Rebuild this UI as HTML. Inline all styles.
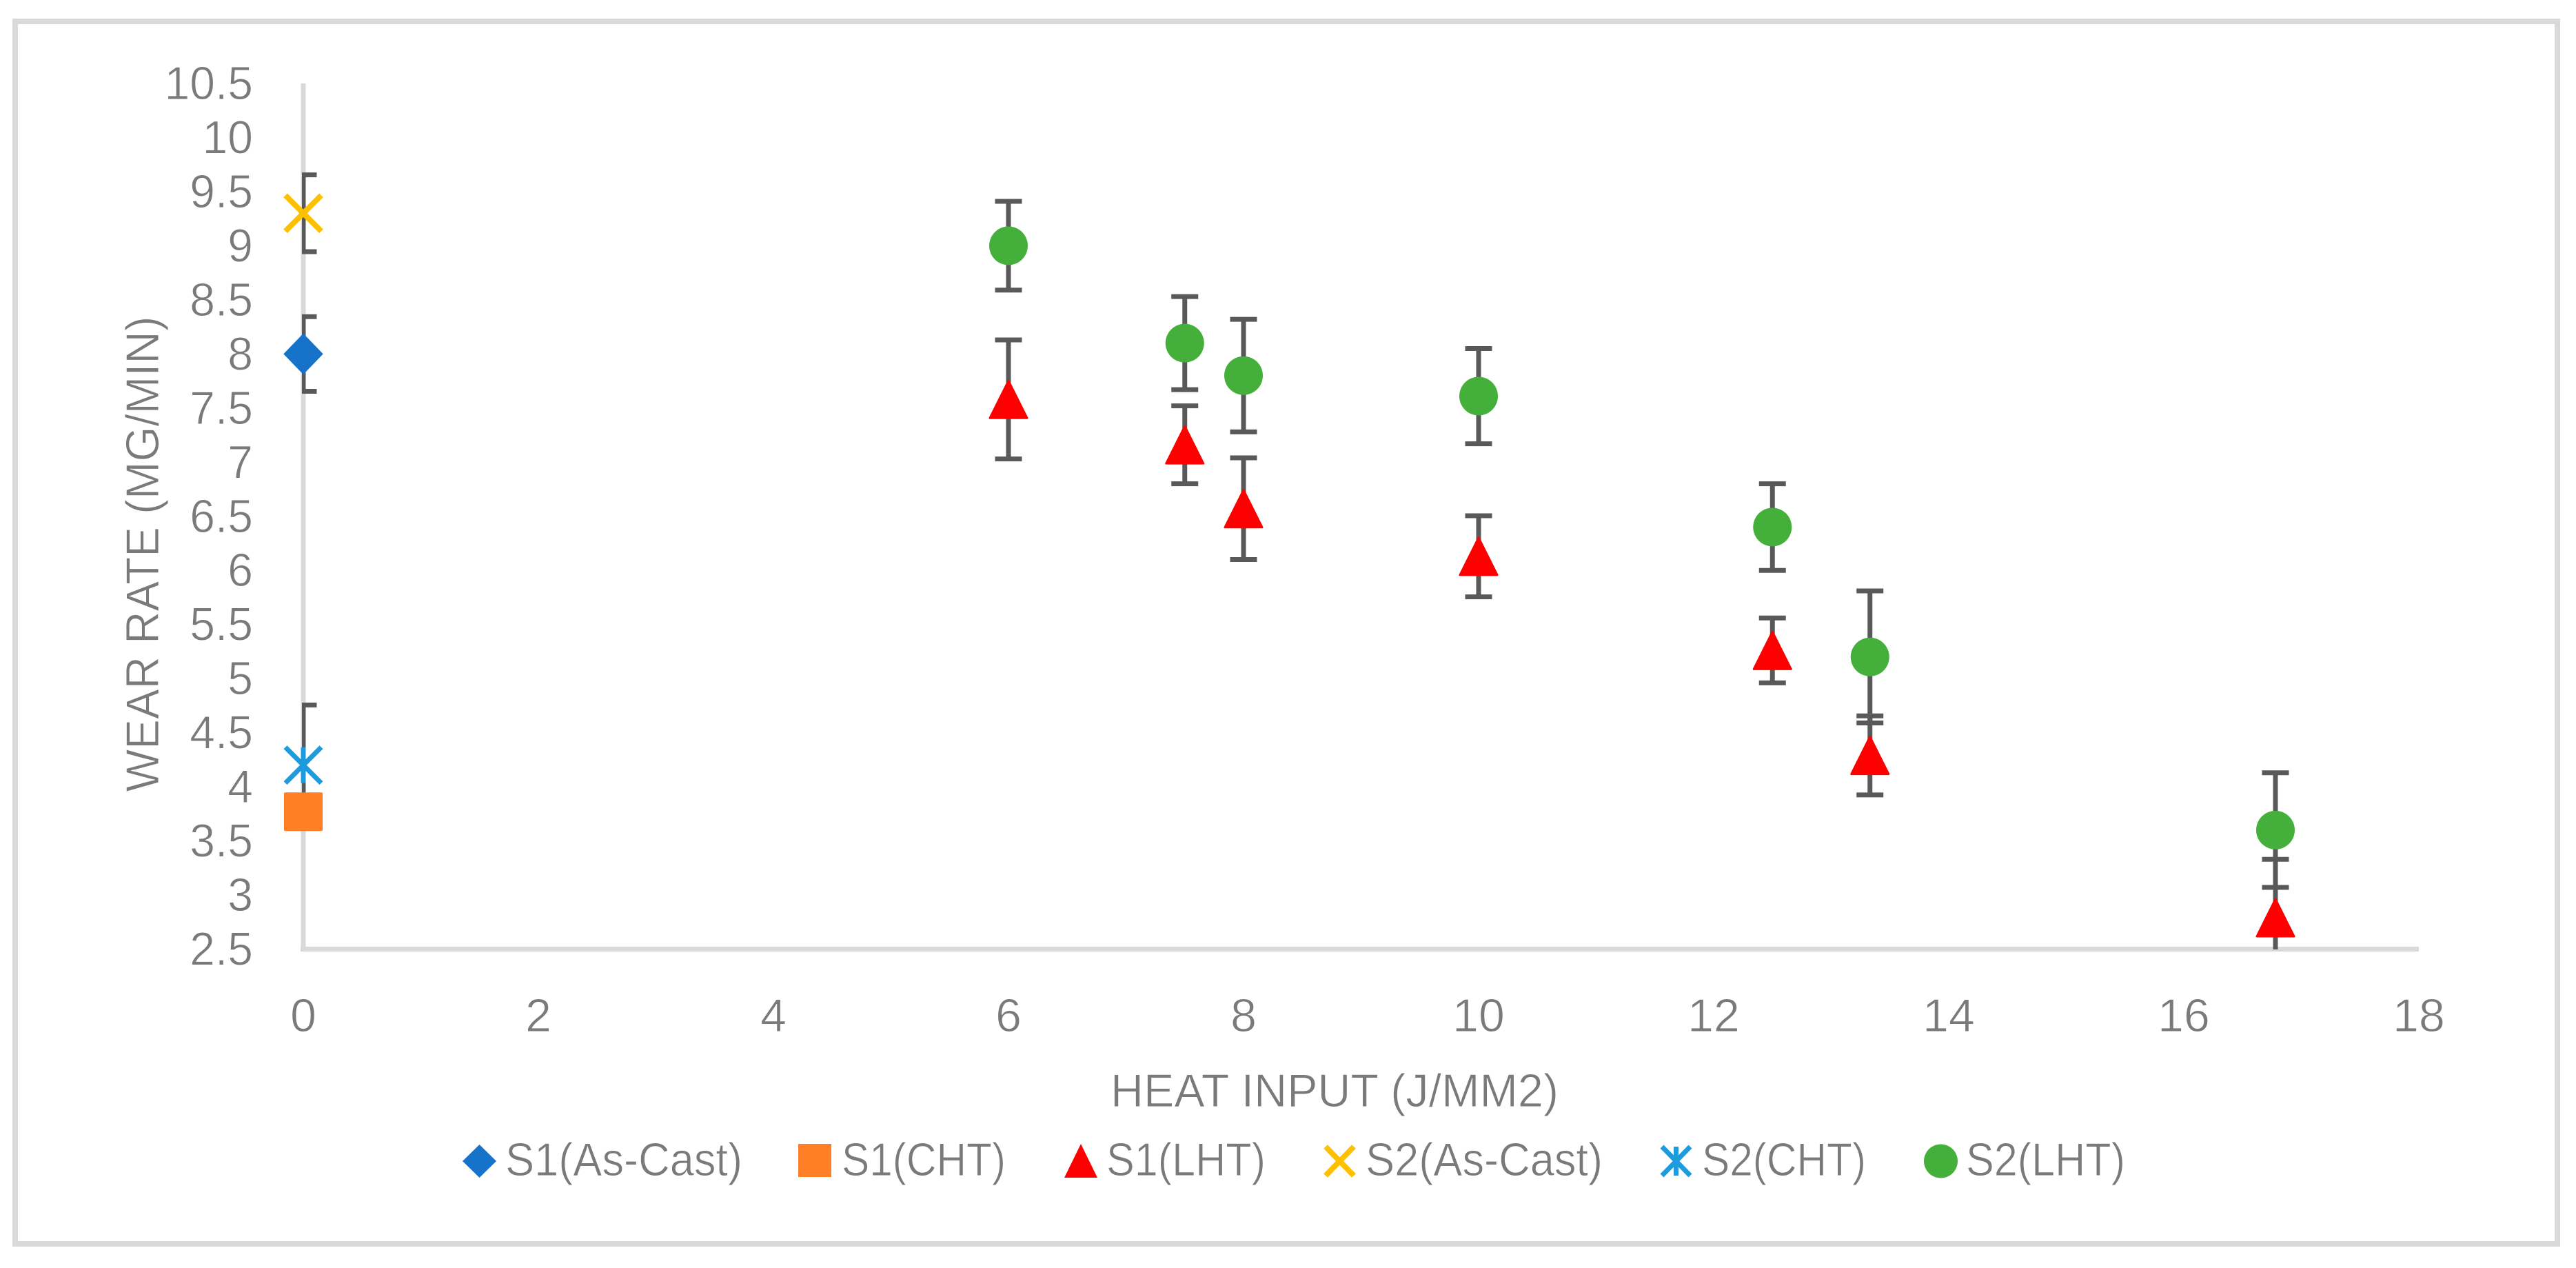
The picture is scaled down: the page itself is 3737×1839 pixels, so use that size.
<!DOCTYPE html>
<html lang="en">
<head>
<meta charset="utf-8">
<title>Wear rate vs heat input</title>
<style>
  html, body { margin: 0; padding: 0; background: #fff; }
  svg { display: block; }
  text { font-family: "Liberation Sans", sans-serif; fill: #7a7a7a; stroke: #fff; stroke-width: 0.9px; }
</style>
</head>
<body>
<svg id="chart" xmlns="http://www.w3.org/2000/svg" width="3737" height="1839" viewBox="0 0 3737 1839">
  <rect x="0" y="0" width="3737" height="1839" fill="#fff"/>
  <rect x="22" y="31" width="3688" height="1773" fill="#fff" stroke="#d9d9d9" stroke-width="8"/>
  <defs>
    <clipPath id="plot-clip"><rect x="438" y="100" width="3090" height="1277"/></clipPath>
  </defs>
  <line x1="440" y1="121" x2="440" y2="1380" stroke="#d9d9d9" stroke-width="7"/>
  <line x1="436" y1="1376.5" x2="3509" y2="1376.5" stroke="#d9d9d9" stroke-width="7"/>
  <g id="y-ticks"></g>
  <g id="x-ticks"></g>
  <g id="errors" clip-path="url(#plot-clip)"></g>
  <g id="marks"></g>
  <text transform="translate(230 803.5) rotate(-90)" text-anchor="middle" font-size="68" textLength="690" lengthAdjust="spacingAndGlyphs">WEAR RATE (MG/MIN)</text>
  <text x="1611" y="1605" font-size="68" textLength="650" lengthAdjust="spacingAndGlyphs">HEAT INPUT (J/MM2)</text>
  <g>
    <g>
      <polygon points="695.5,1660 720,1684 695.5,1708 671,1684" fill="#1772c9"/>
      <text x="733" y="1705" font-size="68" textLength="344" lengthAdjust="spacingAndGlyphs">S1(As-Cast)</text>
    </g>
    <g>
      <rect x="1158" y="1659" width="48" height="48" fill="#ff7f27"/>
      <text x="1221" y="1705" font-size="68" textLength="238" lengthAdjust="spacingAndGlyphs">S1(CHT)</text>
    </g>
    <g>
      <polygon points="1568,1659 1592,1708 1544,1708" fill="#ff0000"/>
      <text x="1605" y="1705" font-size="68" textLength="231" lengthAdjust="spacingAndGlyphs">S1(LHT)</text>
    </g>
    <g>
      <path d="M1923 1663L1964 1705M1964 1663L1923 1705" fill="none" stroke="#ffc000" stroke-width="8"/>
      <text x="1981" y="1705" font-size="68" textLength="344" lengthAdjust="spacingAndGlyphs">S2(As-Cast)</text>
    </g>
    <g>
      <path d="M2411 1663L2452 1705M2452 1663L2411 1705M2431.5 1663V1705" fill="none" stroke="#1e9bdc" stroke-width="7"/>
      <text x="2469" y="1705" font-size="68" textLength="238" lengthAdjust="spacingAndGlyphs">S2(CHT)</text>
    </g>
    <g>
      <circle cx="2815.5" cy="1684" r="24.5" fill="#45af3b"/>
      <text x="2852" y="1705" font-size="68" textLength="231" lengthAdjust="spacingAndGlyphs">S2(LHT)</text>
    </g>
  </g>
</svg>
<script>
// ---- chart data ----
const yTickLabels = ['2.5','3','3.5','4','4.5','5','5.5','6','6.5','7','7.5','8','8.5','9','9.5','10','10.5'];
const xTickLabels = ['0','2','4','6','8','10','12','14','16','18'];

const heatInputLHT = [6, 7.5, 8, 10, 12.5, 13.33, 16.78];

const s1AsCastX = [0];
const s1AsCastY = [8];
const s1AsCastErr = [0.345];

const s1ChtX = [0];
const s1ChtY = [3.77];
const s1ChtErr = [0];

const s1LhtY = [7.58, 7.16, 6.57, 6.13, 5.26, 4.29, 2.79];
const s1LhtErr = [0.55, 0.36, 0.47, 0.375, 0.3, 0.365, 0.54];

const s2AsCastX = [0];
const s2AsCastY = [9.3];
const s2AsCastErr = [0.355];

const s2ChtX = [0];
const s2ChtY = [4.2];
const s2ChtErr = [0.556];

const s2LhtY = [9, 8.1, 7.8, 7.61, 6.4, 5.2, 3.6];
const s2LhtErr = [0.41, 0.43, 0.52, 0.44, 0.4, 0.61, 0.53];

// ---- axis functions ----
const xMin = 0, xMax = 18, yMin = 2.5, yMax = 10.5;
const plotLeft = 440, plotRight = 3509, plotTop = 121, plotBottom = 1376.5;
function xScale(v) { return plotLeft + (v - xMin) / (xMax - xMin) * (plotRight - plotLeft); }
function yScale(v) { return plotBottom - (v - yMin) / (yMax - yMin) * (plotBottom - plotTop); }

const NS = 'http://www.w3.org/2000/svg';
function mk(tag, parent) {
  const el = document.createElementNS(NS, tag);
  parent.appendChild(el);
  return el;
}

// ---- tick labels ----
const yTicks = document.getElementById('y-ticks');
yTickLabels.forEach(function (label) {
  const el = mk('text', yTicks);
  
  
  el.setAttribute('x', plotLeft - 73);
  el.setAttribute('y', yScale(parseFloat(label)) + 23);
  el.setAttribute('text-anchor', 'end');
  el.setAttribute('font-size', '68');
  el.textContent = label;
  el.setAttribute('textLength', el.getComputedTextLength() * 0.97);
  el.setAttribute('lengthAdjust', 'spacingAndGlyphs');
});
const xTicks = document.getElementById('x-ticks');
xTickLabels.forEach(function (label) {
  const el = mk('text', xTicks);
  
  
  el.setAttribute('x', xScale(parseFloat(label)));
  el.setAttribute('y', 1496);
  el.setAttribute('text-anchor', 'middle');
  el.setAttribute('font-size', '68');
  el.textContent = label;
});

// ---- error bars ----
const errorLayer = document.getElementById('errors');
const CAP = 19.5;
function drawErrors(xs, ys, errs) {
  xs.forEach(function (xv, i) {
    if (!errs[i]) return;
    const px = xScale(xv);
    const top = yScale(ys[i] + errs[i]);
    const bottom = yScale(ys[i] - errs[i]);
    const path = mk('path', errorLayer);
    
    
    path.setAttribute('d',
      'M' + px + ' ' + top + 'V' + bottom +
      'M' + (px - CAP) + ' ' + top + 'H' + (px + CAP) +
      'M' + (px - CAP) + ' ' + bottom + 'H' + (px + CAP));
    path.setAttribute('fill', 'none');
    path.setAttribute('stroke', '#595959');
    path.setAttribute('stroke-width', '7');
  });
}
drawErrors(s1AsCastX, s1AsCastY, s1AsCastErr);
drawErrors(s1ChtX, s1ChtY, s1ChtErr);
drawErrors(heatInputLHT, s1LhtY, s1LhtErr);
drawErrors(s2AsCastX, s2AsCastY, s2AsCastErr);
drawErrors(s2ChtX, s2ChtY, s2ChtErr);
drawErrors(heatInputLHT, s2LhtY, s2LhtErr);

// ---- markers ----
const markLayer = document.getElementById('marks');
const R = 28;
xyEach(s1AsCastX, s1AsCastY, function (px, py) {
  const el = mk('polygon', markLayer);
  
  
  el.setAttribute('points', [px, py - 29, px + R, py, px, py + 29, px - R, py].join(','));
  el.setAttribute('fill', '#1772c9');
  el.setAttribute('stroke', '#1772c9');
  el.setAttribute('stroke-width', '1');
  el.setAttribute('stroke-linejoin', 'round');
});
xyEach(s1ChtX, s1ChtY, function (px, py) {
  const el = mk('rect', markLayer);
  
  
  el.setAttribute('x', px - R);
  el.setAttribute('y', py - R);
  el.setAttribute('width', R * 2);
  el.setAttribute('height', R * 2);
  el.setAttribute('rx', '2');
  el.setAttribute('fill', '#ff7f27');
});
xyEach(heatInputLHT, s1LhtY, function (px, py) {
  const el = mk('polygon', markLayer);
  
  
  el.setAttribute('points', [px, py - R + 1, px + R - 1, py + R - 1, px - R + 1, py + R - 1].join(','));
  el.setAttribute('fill', '#ff0000');
  el.setAttribute('stroke', '#ff0000');
  el.setAttribute('stroke-width', '3');
  el.setAttribute('stroke-linejoin', 'round');
});
xyEach(s2AsCastX, s2AsCastY, function (px, py) {
  const el = mk('path', markLayer);
  
  
  el.setAttribute('d', 'M' + (px - 26) + ' ' + (py - 26) + 'L' + (px + 26) + ' ' + (py + 26) + 'M' + (px + 26) + ' ' + (py - 26) + 'L' + (px - 26) + ' ' + (py + 26));
  el.setAttribute('fill', 'none');
  el.setAttribute('stroke', '#ffc000');
  el.setAttribute('stroke-width', '8');
});
xyEach(s2ChtX, s2ChtY, function (px, py) {
  const el = mk('path', markLayer);
  
  
  el.setAttribute('d', 'M' + (px - 26) + ' ' + (py - 26) + 'L' + (px + 26) + ' ' + (py + 26) + 'M' + (px + 26) + ' ' + (py - 26) + 'L' + (px - 26) + ' ' + (py + 26) + 'M' + px + ' ' + (py - 26) + 'V' + (py + 26));
  el.setAttribute('fill', 'none');
  el.setAttribute('stroke', '#1e9bdc');
  el.setAttribute('stroke-width', '7');
});
xyEach(heatInputLHT, s2LhtY, function (px, py) {
  const el = mk('circle', markLayer);
  
  
  el.setAttribute('cx', px);
  el.setAttribute('cy', py);
  el.setAttribute('r', R);
  el.setAttribute('fill', '#45af3b');
});
function xyEach(xs, ys, fn) {
  xs.forEach(function (xv, i) { fn(xScale(xv), yScale(ys[i])); });
}
</script>
</body>
</html>
